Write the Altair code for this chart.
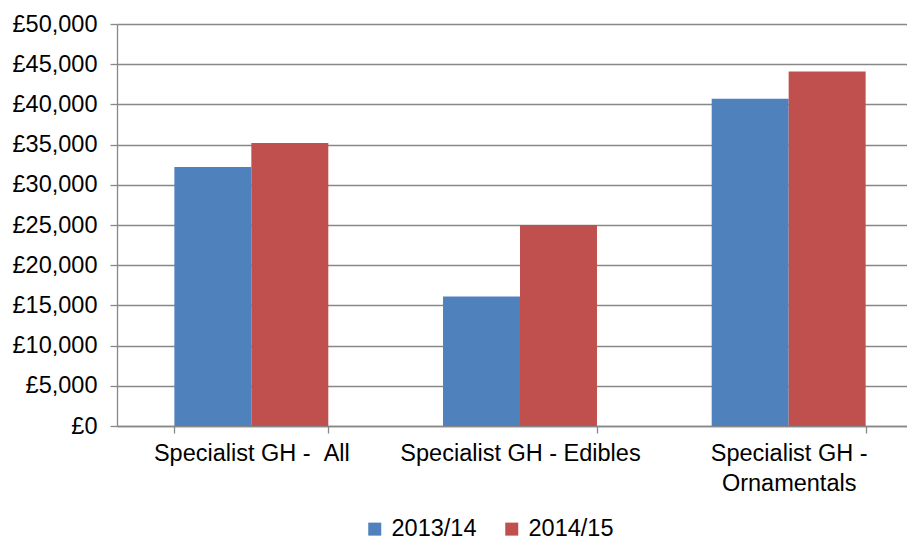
import altair as alt
import pandas as pd

categories = ["Specialist GH - \u00a0All", "Specialist GH - Edibles", "Specialist GH -\nOrnamentals"]
series = ["2013/14", "2014/15"]
values_2013 = [32200, 16100, 40700]
values_2014 = [35200, 25000, 44100]
y_ticks = [0, 5000, 10000, 15000, 20000, 25000, 30000, 35000, 40000, 45000, 50000]
colors = ["#4F81BD", "#C0504D"]

rows = []
for c, a, b in zip(categories, values_2013, values_2014):
    rows.append({"category": c, "year": series[0], "value": a})
    rows.append({"category": c, "year": series[1], "value": b})
df = pd.DataFrame(rows)

FONT = "Liberation Sans"
GRAY = "#888888"
FS = 23.5

chart = alt.Chart(df).mark_bar().encode(
    x=alt.X(
        "category:N", sort=categories, title=None,
        scale=alt.Scale(range=[0, 806], paddingInner=0.427, paddingOuter=0.2135),
        axis=alt.Axis(
            labelAngle=0, labelFontSize=FS, labelFont=FONT, labelColor="black",
            labelPadding=8, labelLineHeight=30,
            labelExpr="datum.value ? split(datum.value, '\\n') : ''",
            tickBand="extent", tickSize=7, tickColor=GRAY, domainColor=GRAY,
            tickWidth=1.3, domainWidth=1.3, grid=False, labelLimit=400,
        ),
    ),
    xOffset=alt.XOffset("year:N", sort=series, scale=alt.Scale(paddingInner=0, paddingOuter=0)),
    y=alt.Y(
        "value:Q", title=None,
        scale=alt.Scale(domain=[0, 50000], nice=False),
        axis=alt.Axis(
            values=y_ticks, labelExpr="'£' + format(datum.value, ',')",
            labelFontSize=FS, labelFont=FONT, labelColor="black", labelPadding=13,
            tickSize=7, tickColor=GRAY, tickWidth=1.3, domainColor=GRAY, domainWidth=1.3,
            gridColor=GRAY, gridWidth=1.3,
        ),
    ),
    color=alt.Color(
        "year:N", sort=series,
        scale=alt.Scale(domain=series, range=colors),
        legend=alt.Legend(
            title=None, orient="none", legendX=246, legendY=493, direction="horizontal",
            symbolType="square", symbolSize=169, symbolStrokeWidth=0,
            labelFontSize=FS, labelFont=FONT, labelColor="black",
            columnPadding=23, labelOffset=5, padding=0,
        ),
    ),
).properties(
    width=790, height=402,
    autosize=alt.AutoSizeParams(type="none"),
    padding={"left": 109, "top": 16, "right": 0, "bottom": 116},
).configure_view(stroke=None)

chart.save("out.html", embed_options={"renderer": "svg", "actions": False})
